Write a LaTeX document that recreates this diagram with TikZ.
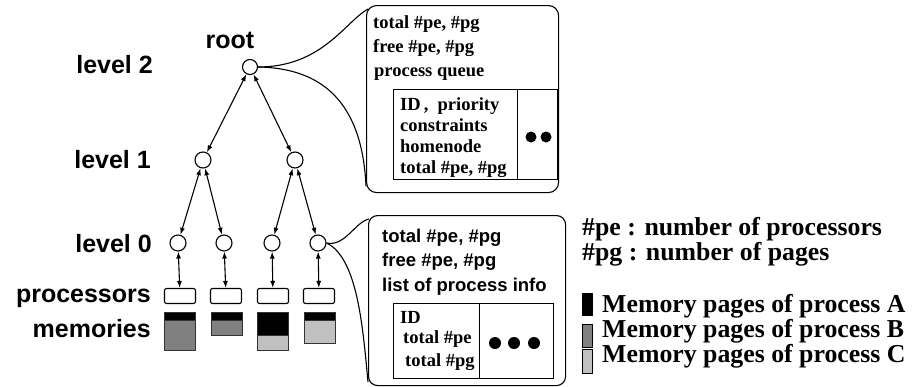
\documentclass[tikz,border=0pt]{standalone}
\usepackage{fontspec}
\setmainfont{Liberation Serif}
\setsansfont{Liberation Sans}
\usetikzlibrary{arrows.meta}
\begin{document}
\begin{tikzpicture}[x=1pt,y=-1pt,
  lab/.style={font=\sffamily\bfseries\fontsize{25}{25}\selectfont, anchor=base east, inner sep=0pt},
  ser/.style={font=\rmfamily\bfseries\fontsize{18.5}{18.5}\selectfont, anchor=base west, inner sep=0pt},
  sans/.style={font=\sffamily\bfseries\fontsize{18.5}{18.5}\selectfont, anchor=base west, inner sep=0pt},
  leg/.style={font=\rmfamily\bfseries\fontsize{25.8}{25.8}\selectfont, anchor=base west, inner sep=0pt},
  tnode/.style={circle, draw, line width=1.1pt, minimum size=16pt, inner sep=0pt, fill=white},
  proc/.style={draw, rounded corners=2pt, minimum width=31pt, minimum height=15pt, inner sep=0pt, line width=1.1pt},
  link/.style={{Latex[length=7pt,width=5pt]}-{Latex[length=7pt,width=5pt]}, line width=1.1pt},
  curve/.style={line width=1.1pt},
  ibox/.style={draw, line width=0.9pt, inner sep=0pt},
  dot/.style={circle, fill=black, inner sep=0pt}
]
\useasboundingbox (0,0) rectangle (924,386);
\definecolor{grB}{HTML}{808080}
\definecolor{grC}{HTML}{C0C0C0}

% labels
\node[lab, anchor=base] (troot) at (230,48) {root};
\node[lab] (l2) at (153,73) {level 2};
\node[lab] (l1) at (151,168) {level 1};
\node[lab] (l0) at (152,252) {level 0};
\node[lab] (lp) at (151,302) {processors};
\node[lab] (lm) at (151,337) {memories};

% tree nodes
\node[tnode, minimum size=15pt] (r) at (250,67) {};
\node[tnode] (a) at (203,160) {};
\node[tnode] (b) at (295,160) {};
\node[tnode] (c1) at (178,243) {};
\node[tnode] (c2) at (224,243) {};
\node[tnode] (c3) at (272,243) {};
\node[tnode] (c4) at (318,243) {};

\node[proc] (p1) at (180,296) {};
\node[proc] (p2) at (226,296) {};
\node[proc] (p3) at (273,296) {};
\node[proc] (p4) at (319,296) {};

\draw[link] (r) -- (a);
\draw[link] (r) -- (b);
\draw[link] (a) -- (c1);
\draw[link] (a) -- (c2);
\draw[link] (b) -- (c3);
\draw[link] (b) -- (c4);
\draw[link] (c1) -- (p1);
\draw[link] (c2) -- (p2);
\draw[link] (c3) -- (p3);
\draw[link] (c4) -- (p4);

% memories
\begin{scope}[draw=black!80, line width=0.7pt]
\filldraw[fill=black] (164,312) rectangle (195,320);
\filldraw[fill=grB] (164,320) rectangle (195,350);
\filldraw[fill=black] (211,312) rectangle (242,320);
\filldraw[fill=grB] (211,320) rectangle (242,335);
\filldraw[fill=black] (257,312) rectangle (288,335);
\filldraw[fill=grC] (257,335) rectangle (288,350);
\filldraw[fill=black] (304,312) rectangle (335,320);
\filldraw[fill=grC] (304,320) rectangle (335,343);
\end{scope}

% top info box
\node[draw, line width=1.1pt, rounded corners=10pt, minimum width=192pt, minimum height=187pt, anchor=north west, inner sep=0pt] (tb) at (366,5) {};
\coordinate (tbu) at (368,9);
\coordinate (tbl) at (366,186);
\draw[curve] (r.east) .. controls (322,67) and (345,22) .. (tbu);
\draw[curve] (r.east) .. controls (320,68) and (362,100) .. (tbl);
\node[ser] (t1) at (373,28) {total \#pe, \#pg};
\node[ser] (t2) at (373,52) {free \#pe, \#pg};
\node[ser] (t3) at (374,76) {process queue};
\node[ibox, minimum width=124pt, minimum height=90pt, anchor=north west] (tq) at (393,89) {};
\node[ibox, minimum width=40pt, minimum height=90pt, anchor=north west] (tq2) at (517,89) {};
\node[ser] (q1) at (400,110) {ID\,,\ \ priority};
\node[ser] (q2) at (400,131) {constraints};
\node[ser] (q3) at (400,152) {homenode};
\node[ser] (q4) at (400,173) {total \#pe, \#pg};
\node[dot, minimum size=11pt] (d1) at (531,137) {};
\node[dot, minimum size=11pt] (d2) at (546,137) {};

% bottom info box
\node[draw, line width=1.1pt, rounded corners=9pt, minimum width=197pt, minimum height=170pt, anchor=north west, inner sep=0pt] (bb) at (368,215) {};
\coordinate (bbu) at (369,219);
\coordinate (bbl) at (368,382);
\draw[curve] (c4.east) .. controls (345,247) and (355,222) .. (bbu);
\draw[curve] (c4.east) .. controls (358,258) and (363,330) .. (bbl);
\node[sans] (s1) at (382,242) {total \#pe, \#pg};
\node[sans] (s2) at (382,266) {free \#pe, \#pg};
\node[sans] (s3) at (382,291) {list of process info};
\node[ibox, minimum width=86pt, minimum height=75pt, anchor=north west] (bq) at (393,303) {};
\node[ibox, minimum width=74pt, minimum height=75pt, anchor=north west] (bq2) at (479,303) {};
\node[ser] (u1) at (400,323) {ID};
\node[ser] (u2) at (403,343) {total \#pe};
\node[ser] (u3) at (405,366) {total \#pg};
\node[dot, minimum size=12pt] (e1) at (495,343) {};
\node[dot, minimum size=12pt] (e2) at (514,343) {};
\node[dot, minimum size=12pt] (e3) at (534,343) {};

% legend
\node[leg] (g1) at (582,235) {\#pe : number of processors};
\node[leg] (g2) at (582,260) {\#pg : number of pages};
\draw[fill=black, line width=0.6pt] (582,293) rectangle (592,315);
\draw[fill=grB, line width=0.6pt] (582,324) rectangle (592,347);
\draw[fill=grC, line width=0.6pt] (582,349) rectangle (592,373);
\node[leg] (m1) at (602,312) {Memory pages of process A};
\node[leg] (m2) at (602,337) {Memory pages of process B};
\node[leg] (m3) at (602,362) {Memory pages of process C};
\end{tikzpicture}
\end{document}
